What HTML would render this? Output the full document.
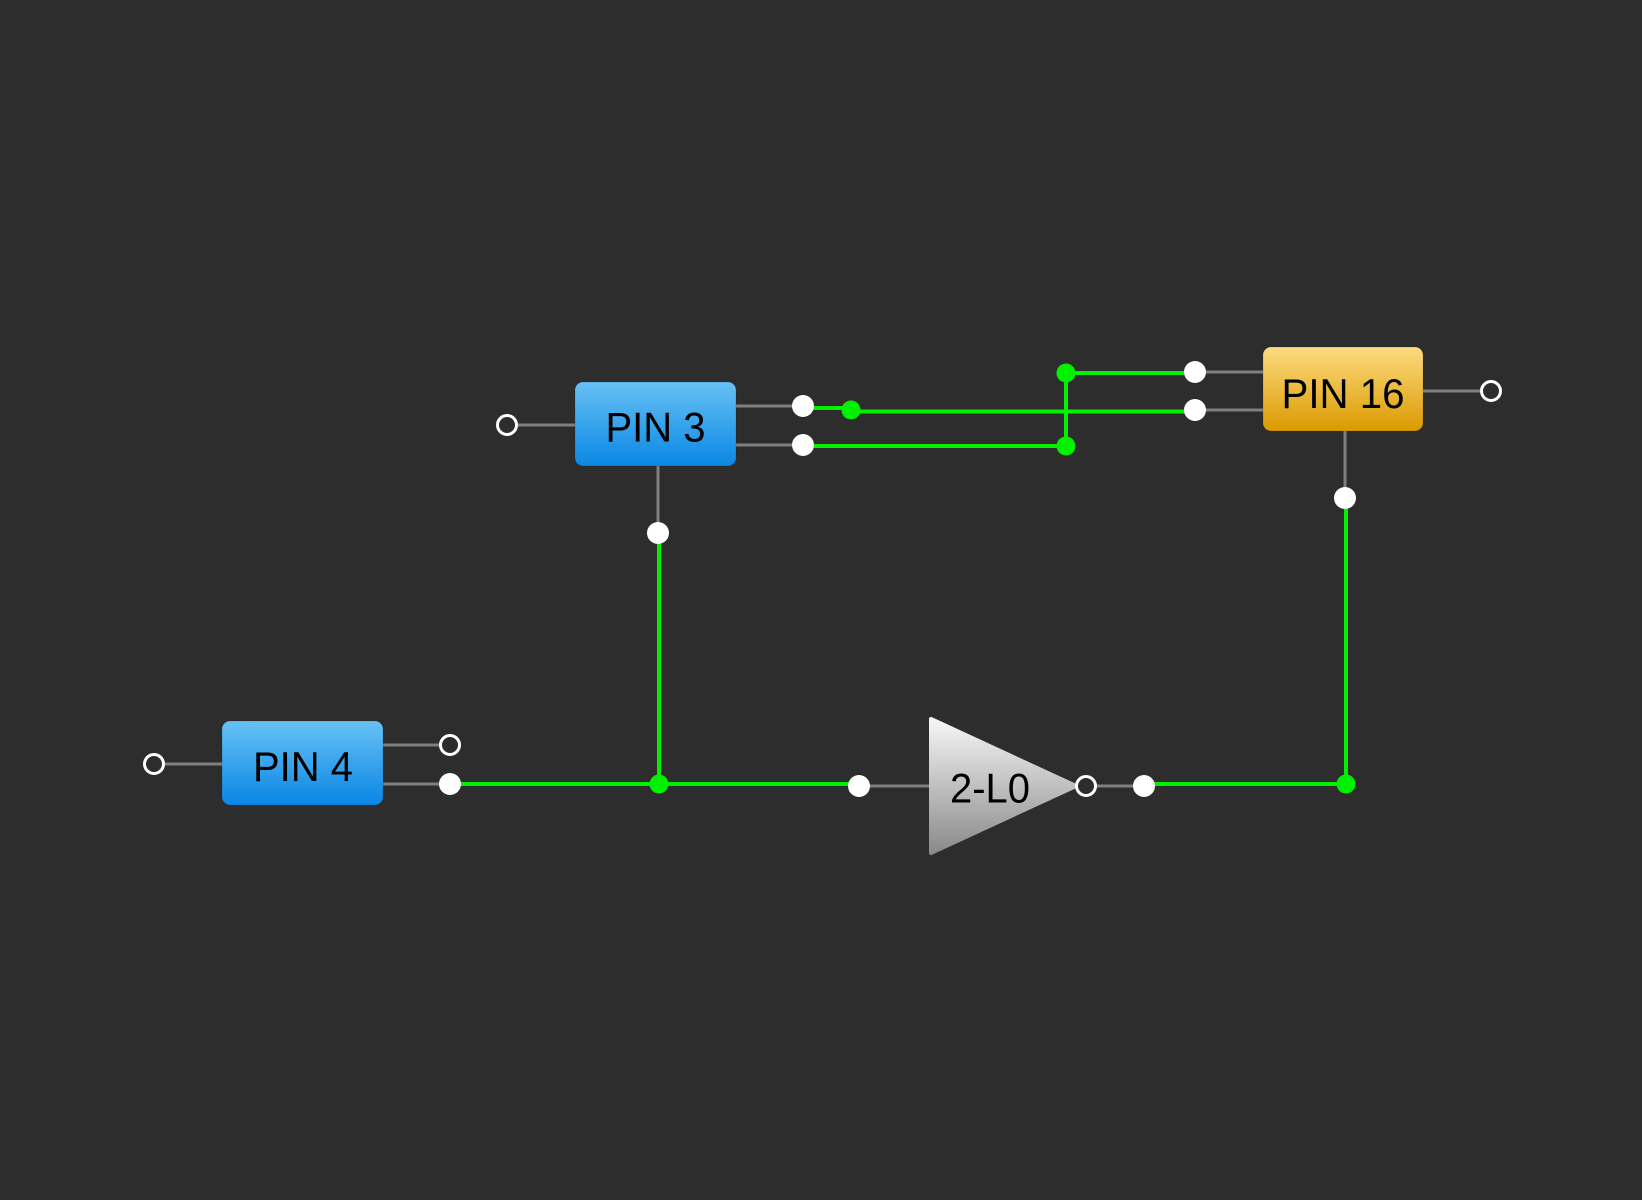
<!DOCTYPE html>
<html>
<head>
<meta charset="utf-8">
<style>
  html,body{margin:0;padding:0;background:#2d2d2d;}
  svg{display:block;}
  text{font-family:"Liberation Sans",Arial,sans-serif;fill:#000;}
</style>
</head>
<body>
<svg width="1642" height="1200" viewBox="0 0 1642 1200" xmlns="http://www.w3.org/2000/svg">
  <defs>
    <linearGradient id="blue" x1="0" y1="0" x2="0" y2="1">
      <stop offset="0" stop-color="#67c1f4"/>
      <stop offset="1" stop-color="#0a87e5"/>
    </linearGradient>
    <linearGradient id="orange" x1="0" y1="0" x2="0" y2="1">
      <stop offset="0" stop-color="#fddb80"/>
      <stop offset="1" stop-color="#db9a00"/>
    </linearGradient>
    <linearGradient id="grey" x1="0" y1="0" x2="0" y2="1">
      <stop offset="0" stop-color="#f6f6f6"/>
      <stop offset="1" stop-color="#8a8a8a"/>
    </linearGradient>
  </defs>
  <rect width="1642" height="1200" fill="#2d2d2d"/>

  <!-- gray stubs -->
  <g stroke="#808080" stroke-width="3" fill="none">
    <line x1="507" y1="425" x2="575" y2="425"/>
    <line x1="736" y1="406" x2="803" y2="406"/>
    <line x1="736" y1="445" x2="803" y2="445"/>
    <line x1="658" y1="466" x2="658" y2="533"/>
    <line x1="1195" y1="372" x2="1263" y2="372"/>
    <line x1="1195" y1="410" x2="1263" y2="410"/>
    <line x1="1423" y1="391" x2="1491" y2="391"/>
    <line x1="1345" y1="431" x2="1345" y2="498"/>
    <line x1="154" y1="764" x2="222" y2="764"/>
    <line x1="383" y1="745" x2="450" y2="745"/>
    <line x1="383" y1="784" x2="450" y2="784"/>
    <line x1="859" y1="786" x2="929" y2="786"/>
    <line x1="1086" y1="786" x2="1144" y2="786"/>
  </g>

  <!-- green wires -->
  <g stroke="#00f000" stroke-width="4" fill="none">
    <line x1="803" y1="408" x2="851" y2="408"/>
    <line x1="851" y1="411.5" x2="1195" y2="411.5"/>
    <line x1="803" y1="446" x2="1066" y2="446"/>
    <line x1="1066" y1="373" x2="1066" y2="446"/>
    <line x1="1066" y1="373" x2="1195" y2="373"/>
    <line x1="659" y1="533" x2="659" y2="784"/>
    <line x1="450" y1="784" x2="859" y2="784"/>
    <line x1="1144" y1="784" x2="1346" y2="784"/>
    <line x1="1346" y1="498" x2="1346" y2="784"/>
  </g>
  <g fill="#00f000">
    <circle cx="851" cy="410" r="9.5"/>
    <circle cx="1066" cy="373" r="9.5"/>
    <circle cx="1066" cy="446" r="9.5"/>
    <circle cx="659" cy="784" r="9.5"/>
    <circle cx="1346" cy="784" r="9.5"/>
  </g>

  <!-- white solid dots -->
  <g fill="#ffffff">
    <circle cx="803" cy="406" r="11"/>
    <circle cx="803" cy="445" r="11"/>
    <circle cx="658" cy="533" r="11"/>
    <circle cx="1195" cy="372" r="11"/>
    <circle cx="1195" cy="410" r="11"/>
    <circle cx="1345" cy="498" r="11"/>
    <circle cx="450" cy="784" r="11"/>
    <circle cx="859" cy="786" r="11"/>
    <circle cx="1144" cy="786" r="11"/>
  </g>

  <!-- open circles -->
  <g fill="#2d2d2d" stroke="#ffffff" stroke-width="3">
    <circle cx="507" cy="425" r="9.5"/>
    <circle cx="1491" cy="391" r="9.5"/>
    <circle cx="154" cy="764" r="9.5"/>
    <circle cx="450" cy="745" r="9.5"/>
  </g>

  <!-- boxes -->
  <rect x="575" y="382" width="161" height="84" rx="8" ry="8" fill="url(#blue)" stroke="rgba(0,0,0,0.12)" stroke-width="1"/>
  <rect x="1263" y="347" width="160" height="84" rx="8" ry="8" fill="url(#orange)" stroke="rgba(0,0,0,0.12)" stroke-width="1"/>
  <rect x="222" y="721" width="161" height="84" rx="8" ry="8" fill="url(#blue)" stroke="rgba(0,0,0,0.12)" stroke-width="1"/>

  <!-- triangle (buffer) -->
  <polygon points="931,719 1076,786 931,853" fill="url(#grey)" stroke="url(#grey)" stroke-width="4" stroke-linejoin="round"/>
  <circle cx="1086" cy="786" r="9.5" fill="#2d2d2d" stroke="#ffffff" stroke-width="3"/>

  <!-- labels -->
  <text x="605.5" y="441.5" font-size="42" textLength="100" lengthAdjust="spacingAndGlyphs">PIN 3</text>
  <text x="1281.5" y="408" font-size="42" textLength="123" lengthAdjust="spacingAndGlyphs">PIN 16</text>
  <text x="253" y="781" font-size="42" textLength="100" lengthAdjust="spacingAndGlyphs">PIN 4</text>
  <text x="950" y="802.5" font-size="42" textLength="80" lengthAdjust="spacingAndGlyphs">2-L0</text>
</svg>
</body>
</html>
